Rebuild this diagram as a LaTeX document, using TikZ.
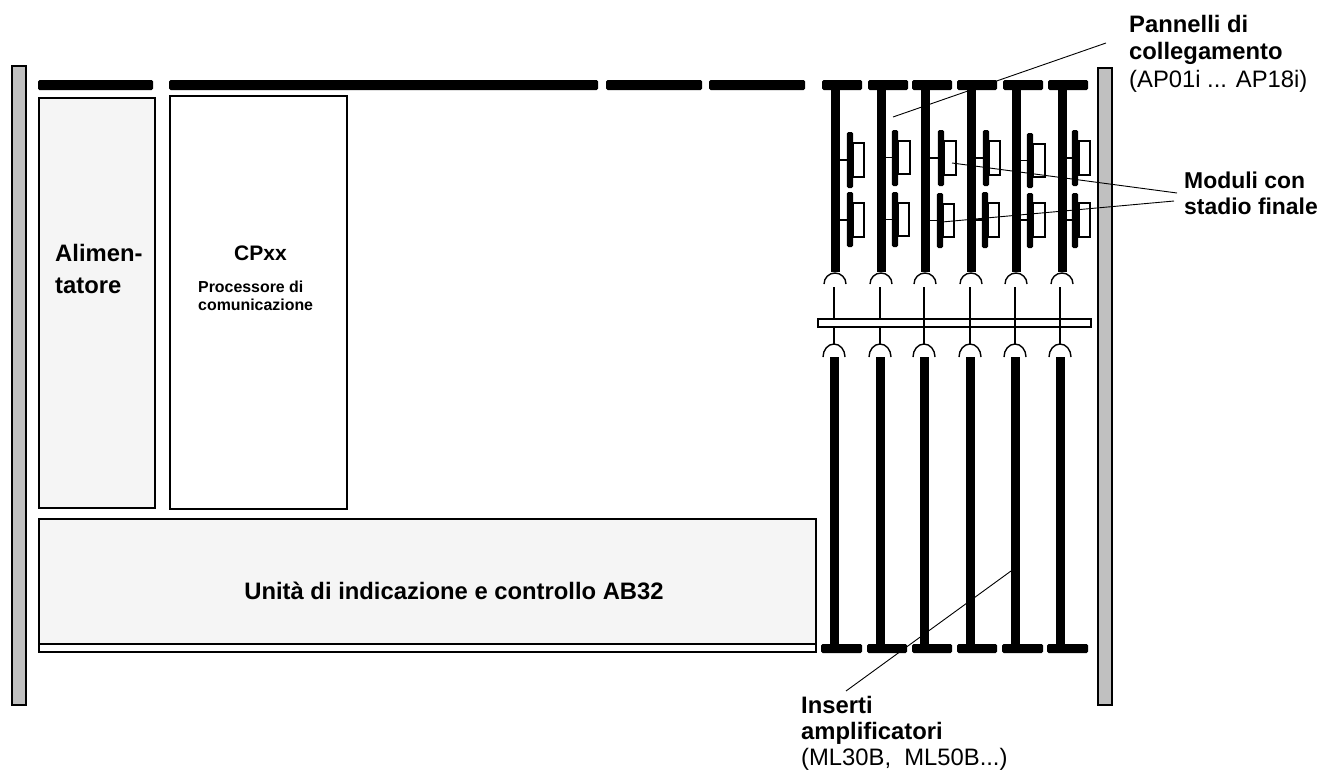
\documentclass[tikz,border=0pt]{standalone}
\usepackage{fontspec}
\setmainfont{Liberation Sans}
\tikzset{
  bigtxt/.style={font=\fontsize{23.8}{26}\selectfont, align=left, inner sep=0pt},
  smalltxt/.style={font=\fontsize{15.9}{18}\selectfont\bfseries, align=left, inner sep=0pt},
  barra/.style={fill=black, rounded corners=1.5pt},
  guida/.style={line width=0.9pt},
}
\definecolor{grigio}{HTML}{C0C0C0}
\definecolor{chiaro}{HTML}{F5F5F5}
\begin{document}
\begin{tikzpicture}[x=1pt, y=-1pt]
    \useasboundingbox (0, 0) rectangle (1321, 771);

    % montanti laterali
    \draw[line width=1.5pt, fill=grigio] (12, 66) rectangle (26, 705);
    \draw[line width=1.5pt, fill=grigio] (1098, 68) rectangle (1112, 705);

    % barre superiori
    \foreach \xa/\xb in {38/153, 169/598, 606/702, 709/805}
        \fill[barra] (\xa, 80) rectangle (\xb, 90);

    % riquadri
    \draw[line width=1.5pt, fill=chiaro] (39, 98) rectangle (155, 508);
    \draw[line width=1.5pt, fill=white] (170, 96) rectangle (347, 509);
    \draw[line width=1.5pt, fill=white] (39, 644) rectangle (816, 652);
    \draw[line width=1.5pt, fill=chiaro] (39, 519) rectangle (816, 644);

    \node[bigtxt, font=\fontsize{23.8}{32}\selectfont\bfseries, anchor=north west] (alim) at (55, 244) {Alimen-\\tatore};
    \node[bigtxt, font=\fontsize{21}{24}\selectfont\bfseries] (cp) at (260.5, 253) {CPxx};
    \node[smalltxt, anchor=north west] (proc) at (198, 281) {Processore di\\comunicazione};
    \node[bigtxt, font=\fontsize{23.8}{26}\selectfont\bfseries] (unita) at (454, 591) {Unità di indicazione e controllo AB32};

    % inserti: colonne superiori e inferiori
    \foreach \xs/\xi/\xa/\xb/\xc/\xd in {835/834/822/862/821/862, 881/880/868/908/867/907, 925/924/912/952/912/952, 971/970/957/997/957/997, 1016/1015/1003/1043/1002/1043, 1062/1060/1048/1088/1047/1088} {
        \fill[barra] (\xa, 80) rectangle (\xb, 90);
        \draw[line width=9pt] (\xs, 85) -- (\xs, 272);
        \draw[line width=9pt] (\xi, 357) -- (\xi, 648);
        \fill[barra] (\xc, 644) rectangle (\xd, 653);
        % contatti
        \draw[line width=1.4pt] (\xs - 11, 284) arc[start angle=180, end angle=360, x radius=11, y radius=11];
        \draw[line width=1.4pt] (\xi - 11, 357) arc[start angle=180, end angle=360, x radius=11, y radius=13];
        \draw[line width=1.4pt] (\xi, 287) -- (\xi, 344);
    }

    % scheda di connessione
    \draw[line width=1.5pt, fill=white] (818, 319) rectangle (1091, 327);
    \foreach \xi in {924, 970, 1015, 1060}
        \draw[line width=1.2pt] (\xi, 319) -- (\xi, 327);

    % moduli con stadio finale
    \foreach \xc/\xm/\ya/\yb/\bl/\br/\bt/\bb in {
        835/850/132/188/853/864/143/177, 881/895/130/186/898/910/141/174,
        925/941/130/186/944/956/141/175, 971/986/130/186/989/1000/141/175,
        1016/1030/133/188/1033/1045/144/177, 1062/1075/130/186/1079/1090/141/175,
        835/850/192/247/853/864/203/237, 881/895/192/247/898/909/203/236,
        925/940/193/248/943/954/204/237, 971/985/192/248/988/999/203/237,
        1016/1030/193/248/1033/1045/203/237, 1062/1075/193/248/1079/1090/203/237} {
        \draw[line width=1.5pt] (\xc, {(\bt + \bb) / 2}) -- (\xm, {(\bt + \bb) / 2});
        \draw[line width=1.5pt] (\bl, \bt) rectangle (\br, \bb);
        \fill[barra] (\xm - 3.2, \ya) rectangle (\xm + 3.2, \yb);
    }

    % etichette
    \node[bigtxt, font=\fontsize{23.8}{27.5}\selectfont, anchor=north west] (pannelli) at (1129, 15) {\textbf{Pannelli di}\\\textbf{collegamento}\\(AP01i ... AP18i)};
    \node[bigtxt, font=\fontsize{22.9}{26}\selectfont\bfseries, anchor=north west] (moduli) at (1184, 172) {Moduli con\\stadio finale};
    \node[bigtxt, anchor=north west] (inserti) at (801, 696) {\textbf{Inserti}\\\textbf{amplificatori}\\(ML30B,~ ML50B...)};

    % linee di richiamo
    \coordinate (ppan) at (893, 117);
    \coordinate (ppanb) at (1106, 43);
    \coordinate (pmod1) at (952, 163);
    \coordinate (pmod1b) at (1177, 193);
    \coordinate (pmod2) at (942, 222);
    \coordinate (pmod2b) at (1174, 201);
    \coordinate (pins) at (1011, 571);
    \coordinate (pinsb) at (846, 691);
    \draw[guida] (ppan) -- (ppanb);
    \draw[guida] (pmod1) -- (pmod1b);
    \draw[guida] (pmod2) -- (pmod2b);
    \draw[guida] (pins) -- (pinsb);
\end{tikzpicture}
\end{document}
